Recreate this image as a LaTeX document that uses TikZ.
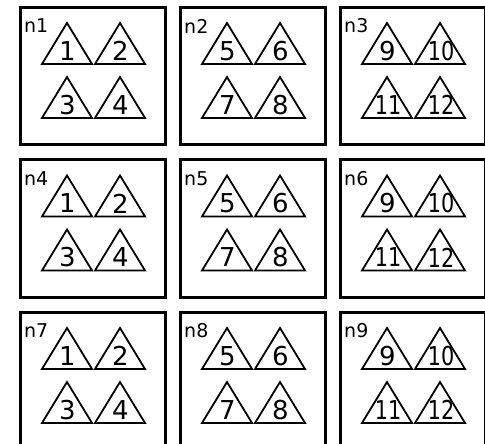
\documentclass[tikz,border=0pt]{standalone}
\usepackage{fontspec}
\setmainfont{DejaVu Sans}
\begin{document}
\begin{tikzpicture}[x=1bp,y=-1bp,
  cell/.style={draw=black,line width=3bp,fill=white},
  tri/.style={draw=black,line width=1.8bp,line join=miter},
  num/.style={inner sep=0pt,font=\fontsize{26bp}{26bp}\selectfont},
  lab/.style={inner sep=0pt,anchor=west,font=\fontsize{19bp}{19bp}\selectfont}]
\useasboundingbox (0,0) rectangle (485,444);
\clip (0,0) rectangle (485,444);
\foreach \r in {0,1,2}{
  \foreach \c in {0,1,2}{
    \pgfmathtruncatemacro{\n}{3*\r+\c+1}
    \pgfmathtruncatemacro{\base}{4*\c}
    \pgfmathsetmacro{\X}{19+160*\c}
    \pgfmathsetmacro{\Y}{6+152.5*\r}
    \begin{scope}[shift={(\X,\Y)}]
      \node[cell,minimum width=145bp,minimum height=137bp,anchor=north west] (box\n) at (0,0) {};
      \node[lab] (lab\n) at (5,20) {n\n};
      \foreach \i/\dx/\ay in {1/48/17,2/101/17,3/48/71,4/101/71}{
        \pgfmathtruncatemacro{\k}{\base+\i}
        \draw[tri] (\dx,\ay) -- (\dx+25,\ay+41) -- (\dx-25,\ay+41) -- cycle;
        \ifnum\k>9
          \node[num] (t\n-\i) at (\dx+1,\ay+28) {\scalebox{0.8}[1]{\k}};
        \else
          \node[num] (t\n-\i) at (\dx+0.5,\ay+28) {\k};
        \fi
      }
    \end{scope}
  }
}
\end{tikzpicture}
\end{document}
